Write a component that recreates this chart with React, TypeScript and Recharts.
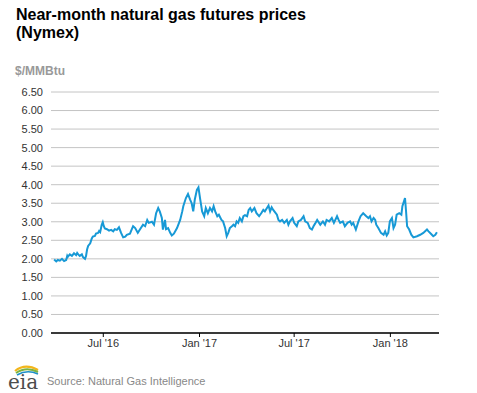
import { LineChart, Line, XAxis, YAxis, CartesianGrid } from 'recharts';

const dates = [
  '2016-03-29', '2016-04-02', '2016-04-05', '2016-04-09', '2016-04-13', '2016-04-17', '2016-04-21', '2016-04-23',
  '2016-04-24', '2016-04-28', '2016-05-02', '2016-05-06', '2016-05-10', '2016-05-12', '2016-05-14', '2016-05-17',
  '2016-05-21', '2016-05-23', '2016-05-25', '2016-05-27', '2016-05-29', '2016-05-31', '2016-06-02', '2016-06-06',
  '2016-06-09', '2016-06-11', '2016-06-15', '2016-06-17', '2016-06-21', '2016-06-23', '2016-06-25', '2016-06-27',
  '2016-06-28', '2016-06-30', '2016-07-02', '2016-07-04', '2016-07-08', '2016-07-12', '2016-07-16', '2016-07-20',
  '2016-07-23', '2016-07-27', '2016-07-31', '2016-08-04', '2016-08-08', '2016-08-12', '2016-08-15', '2016-08-21',
  '2016-08-27', '2016-08-31', '2016-09-05', '2016-09-09', '2016-09-15', '2016-09-19', '2016-09-23', '2016-09-26',
  '2016-10-02', '2016-10-06', '2016-10-10', '2016-10-14', '2016-10-17', '2016-10-21', '2016-10-23', '2016-10-27',
  '2016-10-29', '2016-11-02', '2016-11-06', '2016-11-09', '2016-11-13', '2016-11-19', '2016-11-25', '2016-11-29',
  '2016-12-01', '2016-12-06', '2016-12-10', '2016-12-14', '2016-12-17', '2016-12-20', '2016-12-23', '2016-12-27',
  '2016-12-30', '2017-01-02', '2017-01-06', '2017-01-10', '2017-01-13', '2017-01-17', '2017-01-21', '2017-01-25',
  '2017-01-28', '2017-01-31', '2017-02-04', '2017-02-07', '2017-02-12', '2017-02-15', '2017-02-19', '2017-02-22',
  '2017-02-25', '2017-02-28', '2017-03-04', '2017-03-07', '2017-03-10', '2017-03-13', '2017-03-16', '2017-03-19',
  '2017-03-23', '2017-03-26', '2017-03-29', '2017-04-02', '2017-04-05', '2017-04-08', '2017-04-11', '2017-04-16',
  '2017-04-20', '2017-04-25', '2017-04-29', '2017-05-03', '2017-05-06', '2017-05-10', '2017-05-13', '2017-05-16',
  '2017-05-19', '2017-05-22', '2017-05-29', '2017-06-01', '2017-06-04', '2017-06-08', '2017-06-12', '2017-06-17',
  '2017-06-20', '2017-06-23', '2017-06-28', '2017-07-01', '2017-07-06', '2017-07-09', '2017-07-14', '2017-07-19',
  '2017-07-22', '2017-07-27', '2017-07-31', '2017-08-04', '2017-08-07', '2017-08-10', '2017-08-14', '2017-08-20',
  '2017-08-25', '2017-08-29', '2017-09-01', '2017-09-06', '2017-09-11', '2017-09-15', '2017-09-21', '2017-09-24',
  '2017-09-27', '2017-10-02', '2017-10-06', '2017-10-11', '2017-10-16', '2017-10-19', '2017-10-22', '2017-10-27',
  '2017-11-01', '2017-11-05', '2017-11-10', '2017-11-16', '2017-11-20', '2017-11-23', '2017-11-26', '2017-11-30',
  '2017-12-03', '2017-12-05', '2017-12-09', '2017-12-14', '2017-12-19', '2017-12-22', '2017-12-25', '2017-12-28',
  '2017-12-31', '2018-01-04', '2018-01-07', '2018-01-10', '2018-01-13', '2018-01-18', '2018-01-22', '2018-01-24',
  '2018-01-27', '2018-01-29', '2018-01-31', '2018-02-02', '2018-02-06', '2018-02-10', '2018-02-14', '2018-02-21',
  '2018-02-27', '2018-03-05', '2018-03-12', '2018-03-15', '2018-03-20', '2018-03-24', '2018-03-28', '2018-03-31',
];

const prices = [
  1.98, 1.93, 1.97, 1.95, 2.0, 1.94, 1.97, 2.08,
  2.05, 2.12, 2.08, 2.15, 2.1, 2.16, 2.12, 2.08,
  2.12, 2.05, 2.02, 2.0, 2.08, 2.25, 2.35, 2.42,
  2.55, 2.6, 2.62, 2.68, 2.7, 2.75, 2.72, 2.85,
  2.92, 2.99, 2.88, 2.82, 2.8, 2.76, 2.78, 2.74,
  2.8, 2.78, 2.85, 2.7, 2.58, 2.6, 2.65, 2.68,
  2.88, 2.83, 2.7, 2.79, 2.92, 2.88, 3.05, 2.97,
  3.0, 2.92, 3.23, 3.37, 3.28, 3.1, 2.79, 3.05,
  2.8, 2.83, 2.7, 2.63, 2.68, 2.83, 3.05, 3.28,
  3.42, 3.64, 3.75, 3.6, 3.5, 3.28, 3.6, 3.86,
  3.93, 3.64, 3.28, 3.15, 3.37, 3.23, 3.37, 3.28,
  3.42, 3.28, 3.15, 3.19, 3.05, 3.01, 2.83, 2.61,
  2.7, 2.83, 2.88, 2.92, 2.88, 3.01, 2.97, 3.1,
  3.01, 3.15, 3.18, 3.15, 3.32, 3.37, 3.28, 3.37,
  3.23, 3.15, 3.23, 3.32, 3.28, 3.37, 3.44, 3.28,
  3.39, 3.32, 3.19, 3.05, 3.01, 3.05, 2.97, 3.05,
  2.92, 3.01, 3.1, 2.97, 2.88, 3.01, 3.05, 3.15,
  3.01, 2.97, 2.83, 2.79, 2.88, 2.95, 3.05, 2.92,
  3.01, 2.92, 3.05, 3.01, 3.1, 2.97, 3.15, 3.05,
  2.97, 3.01, 2.88, 2.97, 3.01, 2.92, 2.97, 2.79,
  3.01, 3.15, 3.23, 3.15, 3.1, 3.15, 3.01, 3.1,
  3.05, 2.92, 2.83, 2.7, 2.65, 2.74, 2.63, 2.7,
  3.01, 3.1, 2.83, 2.92, 3.19, 3.23, 3.19, 3.42,
  3.55, 3.64, 3.28, 2.88, 2.79, 2.65, 2.58, 2.61,
  2.65, 2.7, 2.79, 2.74, 2.67, 2.61, 2.65, 2.72,
];

const xTicks = ['2016-07-01', '2017-01-01', '2017-07-01', '2018-01-01'];
const xTickLabels = ["Jul '16", "Jan '17", "Jul '17", "Jan '18"];
const yTicks = [0, 0.5, 1, 1.5, 2, 2.5, 3, 3.5, 4, 4.5, 5, 5.5, 6, 6.5];

const data = dates.map((d, i) => ({ t: Date.parse(d), price: prices[i] }));
const tickTimes = xTicks.map((d) => Date.parse(d));

const FONT = '"Liberation Sans", Arial, Helvetica, sans-serif';

function EiaLogo() {
  return (
    <svg width={34} height={32} style={{ position: 'absolute', left: 7, top: 362 }}>
      <path d="M8 9 Q18 1 31 8" stroke="#f2b61b" strokeWidth={2.2} fill="none" />
      <path d="M9 11 Q19 4 31 10" stroke="#7cb342" strokeWidth={2} fill="none" />
      <path d="M10 13 Q20 7 31 12" stroke="#1e90c8" strokeWidth={1.6} fill="none" />
      <text x={1} y={27} fontFamily='"DejaVu Serif", serif' fontSize={20} fill="#4d4d4d">
        eia
      </text>
    </svg>
  );
}

export default function App() {
  return (
    <div style={{ position: 'absolute', left: 0, top: 0, width: 477, height: 393, background: '#fff', fontFamily: FONT }}>
      <div style={{ position: 'absolute', left: 16, top: 5.5, fontSize: 16, fontWeight: 'bold', lineHeight: '18px', color: '#000' }}>
        Near-month natural gas futures prices
        <br />
        (Nymex)
      </div>
      <div style={{ position: 'absolute', left: 15, top: 64, fontSize: 12, fontWeight: 'bold', color: '#999' }}>
        $/MMBtu
      </div>

      <div style={{ position: 'absolute', left: 0, top: 0 }}>
        <LineChart width={477} height={393} data={data} margin={{ top: 92, right: 38, bottom: 30, left: 0 }}>
          <CartesianGrid vertical={false} stroke="#c4c4c4" strokeWidth={1} />
          <XAxis
            dataKey="t"
            type="number"
            scale="time"
            domain={[Date.parse('2016-03-23'), Date.parse('2018-04-04')]}
            ticks={tickTimes}
            interval={0}
            tickFormatter={(v: number) => xTickLabels[tickTimes.indexOf(v)]}
            axisLine={{ stroke: '#000', strokeWidth: 1.5 }}
            tickLine={{ stroke: '#000' }}
            tickSize={4}
            tickMargin={2}
            tick={{ fill: '#333', fontSize: 11, fontFamily: FONT }}
          />
          <YAxis
            domain={[0, 6.5]}
            ticks={yTicks}
            interval={0}
            width={51}
            axisLine={false}
            tickLine={false}
            tickFormatter={(v: number) => v.toFixed(2)}
            tick={{ fill: '#333', fontSize: 11, fontFamily: FONT }}
          />
          <Line
            type="linear"
            dataKey="price"
            stroke="#1799d6"
            strokeWidth={2}
            dot={false}
            isAnimationActive={false}
          />
        </LineChart>
      </div>

      <EiaLogo />
      <div style={{ position: 'absolute', left: 47, top: 375, fontSize: 11, color: '#888' }}>
        Source: Natural Gas Intelligence
      </div>
    </div>
  );
}
